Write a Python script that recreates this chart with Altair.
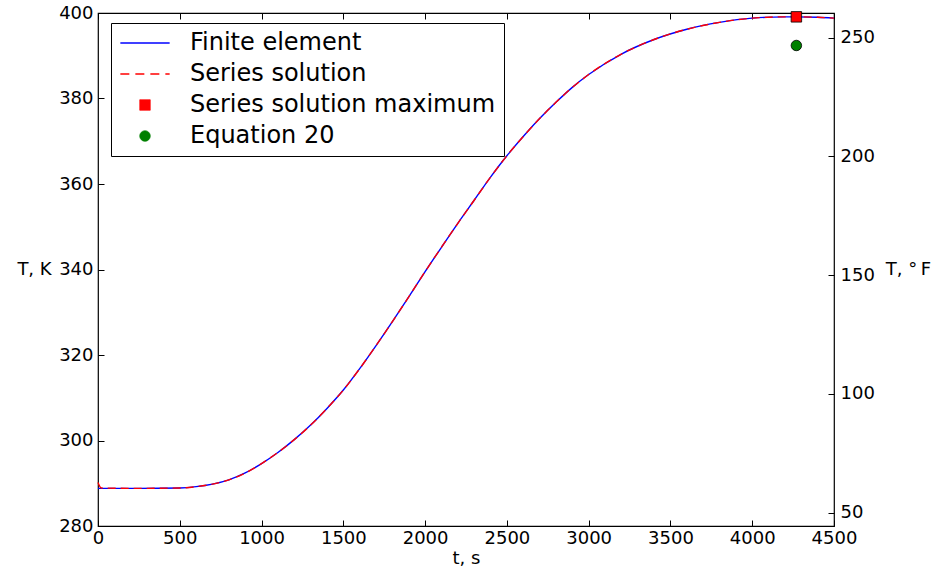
import altair as alt
import pandas as pd

# Temperature history, finite-element run
time_s = [0, 250, 500, 600, 700, 800, 900, 1000, 1100, 1200, 1300, 1400, 1500,
          1600, 1700, 1800, 1900, 2000, 2100, 2200, 2300, 2400, 2500, 2600, 2700,
          2800, 2900, 3000, 3200, 3400, 3600, 3800, 4000, 4200, 4270, 4400, 4500]
fe_temp_k = [288.8, 288.8, 288.9, 289.2, 289.8, 290.8, 292.4, 294.6, 297.2, 300.2,
             303.6, 307.5, 311.8, 316.8, 322.2, 327.8, 333.6, 339.5, 345.2, 350.8,
             356.2, 361.6, 366.6, 371.1, 375.3, 379.1, 382.6, 385.6, 390.4, 393.8,
             396.2, 397.8, 398.8, 399.1, 399.1, 399.0, 398.8]

# Series solution (small start-up overshoot at t = 0)
series_time_s = [0, 20, 250, 500, 600, 700, 800, 900, 1000, 1100, 1200, 1300, 1400,
                 1500, 1600, 1700, 1800, 1900, 2000, 2100, 2200, 2300, 2400, 2500,
                 2600, 2700, 2800, 2900, 3000, 3200, 3400, 3600, 3800, 4000, 4200,
                 4270, 4400, 4500]
series_temp_k = [290.2, 288.9, 288.8, 288.9, 289.2, 289.8, 290.8, 292.4, 294.6, 297.2,
                 300.2, 303.6, 307.5, 311.8, 316.8, 322.2, 327.8, 333.6, 339.5, 345.2,
                 350.8, 356.2, 361.6, 366.6, 371.1, 375.3, 379.1, 382.6, 385.6, 390.4,
                 393.8, 396.2, 397.8, 398.8, 399.1, 399.1, 399.0, 398.8]

# Single-point results
point_time_s = [4270, 4270]
point_temp_k = [399.1, 392.4]
point_names = ["Series solution maximum", "Equation 20"]
point_shapes = ["square", "circle"]

series_names = ["Finite element", "Series solution", "Series solution maximum", "Equation 20"]
series_colors = ["#0000ff", "#ff0000", "#ff0000", "#008000"]

x_ticks = [0, 500, 1000, 1500, 2000, 2500, 3000, 3500, 4000, 4500]
k_ticks = [280, 300, 320, 340, 360, 380, 400]
f_ticks = [50, 100, 150, 200, 250]
x_domain = [0, 4500]
k_domain = [280, 400]
f_domain = [k * 1.8 - 459.67 for k in k_domain]

FONT = "DejaVu Sans"
TICK_FS = 18

fe_df = pd.DataFrame({"t": time_s, "T": fe_temp_k, "series": series_names[0]})
ser_df = pd.DataFrame({"t": series_time_s, "T": series_temp_k, "series": series_names[1]})
pt_df = pd.DataFrame({"t": point_time_s, "T": point_temp_k, "series": point_names,
                      "shape": point_shapes})
xt_df = pd.DataFrame({"v": x_ticks})
kt_df = pd.DataFrame({"v": k_ticks})
ft_df = pd.DataFrame({"v": f_ticks})

xscale = alt.Scale(domain=x_domain, nice=False, zero=False)
kscale = alt.Scale(domain=k_domain, nice=False, zero=False)
fscale = alt.Scale(domain=f_domain, nice=False, zero=False)
cscale = alt.Scale(domain=series_names, range=series_colors)

# Legend symbols: short line segments for the curves, markers for the points
line_names = "['" + "','".join(series_names[:2]) + "']"
is_line = f"indexof({line_names}, datum.value) >= 0"
is_eq = f"datum.value === '{series_names[3]}'"
legend = alt.Legend(
    title=None, orient="none", legendX=13, legendY=10,
    labelFont=FONT, labelFontSize=24, labelColor="black", labelOffset=33, labelLimit=0,
    symbolSize=110, symbolOffset=14, rowPadding=7, padding=8,
    strokeColor="black", fillColor="white", cornerRadius=0,
    symbolType=alt.ExprRef(expr=f"{is_line} ? 'M-4.7,0H4.7' : ({is_eq} ? 'circle' : 'square')"),
    symbolFillColor=alt.ExprRef(
        expr=f"{is_line} ? 'transparent' : ({is_eq} ? '{series_colors[3]}' : '{series_colors[2]}')"),
    symbolStrokeColor=alt.ExprRef(
        expr=f"{is_line} ? (datum.value === '{series_names[0]}' ? '{series_colors[0]}' : '{series_colors[1]}') : 'black'"),
    symbolDash=alt.ExprRef(expr=f"datum.value === '{series_names[1]}' ? [9, 6] : [1, 0]"),
    symbolStrokeWidth=alt.ExprRef(expr=f"{is_line} ? 1.5 : 0.8"),
    symbolOpacity=1,
)

tick_axis = dict(labels=False, domain=False, grid=False, ticks=True, tickSize=6,
                 tickColor="black", tickWidth=1, offset=-6, title=None)

# Blue finite-element curve with the labelled bottom and left axes
fe = alt.Chart(fe_df).mark_line(strokeWidth=1.4, interpolate="monotone").encode(
    x=alt.X("t:Q", scale=xscale, axis=alt.Axis(
        orient="bottom", values=x_ticks, format="d", domain=False, ticks=False, tickSize=0,
        grid=False, labelFont=FONT, labelFontSize=TICK_FS, labelColor="black",
        labelPadding=3, labelFlush=False, labelOverlap=False,
        title="t, s", titleFont=FONT, titleFontSize=TICK_FS, titleFontWeight="normal",
        titleColor="black", titleX=368, titleY=32, titleBaseline="middle")),
    y=alt.Y("T:Q", scale=kscale, axis=alt.Axis(
        orient="left", values=k_ticks, format="d", domain=False, ticks=False, tickSize=0,
        grid=False, labelFont=FONT, labelFontSize=TICK_FS, labelColor="black",
        labelPadding=5, labelFlush=False, labelOverlap=False,
        title="T, K", titleFont=FONT, titleFontSize=TICK_FS, titleFontWeight="normal",
        titleColor="black", titleAngle=0, titleAlign="center", titleBaseline="middle",
        titleX=-64, titleY=256)),
    color=alt.Color("series:N", scale=cscale, legend=legend),
)

# Red dashed series solution
ser = alt.Chart(ser_df).mark_line(strokeWidth=1.4, strokeDash=[8, 5], interpolate="monotone").encode(
    x=alt.X("t:Q", scale=xscale, axis=None),
    y=alt.Y("T:Q", scale=kscale, axis=None),
    color=alt.Color("series:N", scale=cscale, legend=legend),
)

# Maximum of the series solution and the Equation 20 estimate
pts = alt.Chart(pt_df).mark_point(filled=True, opacity=1, stroke="black", strokeWidth=0.8, size=110).encode(
    x=alt.X("t:Q", scale=xscale, axis=None),
    y=alt.Y("T:Q", scale=kscale, axis=None),
    color=alt.Color("series:N", scale=cscale, legend=legend),
    shape=alt.Shape("shape:N", scale=None),
)

# Inward tick marks on the four sides
k_in = alt.Chart(kt_df).mark_point(opacity=0).encode(
    y=alt.Y("v:Q", scale=kscale, axis=alt.Axis(orient="left", values=k_ticks, **tick_axis)))
x_in_bottom = alt.Chart(xt_df).mark_point(opacity=0).encode(
    x=alt.X("v:Q", scale=xscale, axis=alt.Axis(orient="bottom", values=x_ticks, **tick_axis)))
x_in_top = alt.Chart(xt_df).mark_point(opacity=0).encode(
    x=alt.X("v:Q", scale=xscale, axis=alt.Axis(orient="top", values=x_ticks, **tick_axis)))

# Fahrenheit scale on the right
f_lab = alt.Chart(ft_df).mark_point(opacity=0).encode(
    y=alt.Y("v:Q", scale=fscale, axis=alt.Axis(
        orient="right", values=f_ticks, format="d", domain=False, ticks=False, tickSize=0,
        grid=False, labelFont=FONT, labelFontSize=TICK_FS, labelColor="black",
        labelPadding=6, labelFlush=False, labelOverlap=False,
        title="T, \u00b0\u2009F", titleFont=FONT, titleFontSize=TICK_FS, titleFontWeight="normal",
        titleColor="black", titleAngle=0, titleAlign="center", titleBaseline="middle",
        titleX=74, titleY=256)))
f_in = alt.Chart(ft_df).mark_point(opacity=0).encode(
    y=alt.Y("v:Q", scale=fscale, axis=alt.Axis(orient="right", values=f_ticks, **tick_axis)))

chart = alt.layer(
    fe, ser, pts, k_in, x_in_bottom, x_in_top, f_lab, f_in
).resolve_scale(
    y="independent"
).resolve_axis(
    x="independent", y="independent"
).properties(
    width=736, height=513,
    autosize=alt.AutoSizeParams(type="none"),
    padding={"left": 98, "top": 13, "right": 101, "bottom": 45},
    background="white",
).configure_view(
    stroke="black", strokeWidth=1.2
)

chart.save("out.html", embed_options={"renderer": "svg", "actions": False})
